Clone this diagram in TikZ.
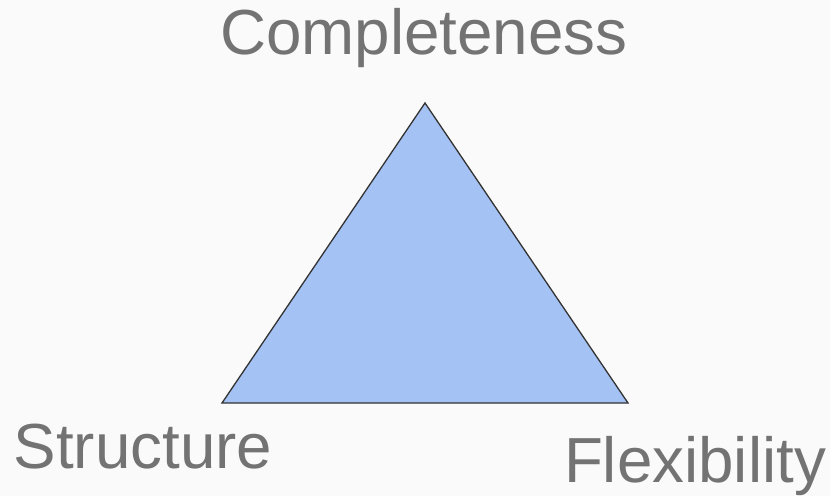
\documentclass[tikz,border=0pt]{standalone}
\usepackage{fontspec}
\setmainfont{Liberation Sans}
\definecolor{bgc}{HTML}{FAFAFA}
\definecolor{txtc}{HTML}{737373}
\definecolor{trifill}{HTML}{A4C2F4}
\definecolor{triline}{HTML}{333333}
\begin{document}
\begin{tikzpicture}[x=1pt,y=1pt,
  lbl/.style={anchor=base,inner sep=0pt,text=txtc,font=\fontsize{63.7}{75}\selectfont}]
\fill[bgc] (0,0) rectangle (830,496);
\useasboundingbox (0,0) rectangle (830,496);
\coordinate (top) at (425,393);
\coordinate (bl) at (222,93);
\coordinate (br) at (628,93);
\filldraw[fill=trifill,draw=triline,line width=1.3pt,line join=miter] (top) -- (bl) -- (br) -- cycle;
\node[lbl] (comp) at (424,441) {Completeness};
\node[lbl] (struct) at (143,28) {Structure};
\node[lbl] (flex) at (695,14) {Flexibility};
\end{tikzpicture}
\end{document}
